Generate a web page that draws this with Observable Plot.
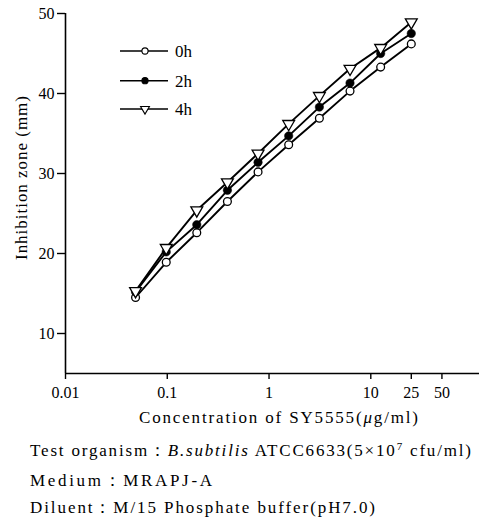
<!DOCTYPE html>
<html>
<head>
<meta charset="utf-8">
<script src="https://cdn.jsdelivr.net/npm/d3@7"></script>
<script src="https://cdn.jsdelivr.net/npm/@observablehq/plot@0.6"></script>
<style>
  body { margin: 0; background: #fff; }
  #wrap { position: relative; width: 482px; height: 521px; font-family: "Liberation Serif", serif; }
  #wrap svg { display: block; }
  #wrap svg text { font-family: "Liberation Serif", serif; }
  #overlay { position: absolute; left: 0; top: 0; pointer-events: none; }
</style>
</head>
<body>
<div id="wrap"></div>
<script>
// ---- data ----
const concentrations = [0.0488, 0.0977, 0.195, 0.39, 0.78, 1.56, 3.125, 6.25, 12.5, 25];
const zone0h = [14.5, 18.9, 22.6, 26.5, 30.2, 33.6, 36.9, 40.3, 43.3, 46.2];
const zone2h = [15.2, 20.2, 23.6, 27.9, 31.4, 34.7, 38.3, 41.3, 45.0, 47.5];
const zone4h = [15.3, 20.7, 25.4, 28.9, 32.5, 36.2, 39.7, 43.1, 45.7, 48.9];
const seriesNames = ["0h", "2h", "4h"];
const xTicks = [0.01, 0.1, 1, 10, 25, 50];
const xTickLabels = ["0.01", "0.1", "1", "10", "25", "50"];
const yTicks = [10, 20, 30, 40, 50];
const xDomain = [0.01, 117];
const yDomain = [5, 50];
const xLabel = "Concentration of SY5555";
const yLabel = "Inhibition zone (mm)";

const seriesValues = [zone0h, zone2h, zone4h];
const rows = seriesNames.flatMap((s, i) =>
  concentrations.map((c, j) => ({ series: s, conc: c, zone: seriesValues[i][j] }))
);
const bySeries = s => rows.filter(d => d.series === s);
const xTickRows = xTicks.map((v, i) => ({ v, label: xTickLabels[i] }));

const FONT = '"Liberation Serif", serif';

const chart = Plot.plot({
  width: 482,
  height: 430,
  marginTop: 13,
  marginLeft: 65,
  marginRight: 3,
  marginBottom: 57,
  style: { fontFamily: FONT, fontSize: "16px", background: "#fff", color: "#000" },
  x: { type: "log", domain: xDomain },
  y: { domain: yDomain },
  marks: [
    Plot.ruleY([yDomain[0]], { stroke: "#000", strokeWidth: 1.6 }),
    Plot.ruleX([xDomain[0]], { y1: yDomain[0], y2: yDomain[1], stroke: "#000", strokeWidth: 1.6 }),
    Plot.axisX({ ticks: xTicks, tickFormat: () => "", tickSize: 6, label: null, stroke: "#000", strokeWidth: 1.4 }),
    Plot.text(xTickRows, { x: "v", text: "label", frameAnchor: "bottom", lineAnchor: "top", dy: 13, fontSize: 16, fill: "#000" }),
    Plot.axisY({ ticks: yTicks, tickSize: 8, tickPadding: 3, label: null, stroke: "#000", strokeWidth: 1.4, fontSize: 16 }),
    ...seriesNames.map(s => Plot.line(bySeries(s), { x: "conc", y: "zone", stroke: "#000", strokeWidth: 1.9 })),
    Plot.dot(bySeries("0h"), { x: "conc", y: "zone", symbol: "circle", r: 3.9, fill: "#fff", stroke: "#000", strokeWidth: 1.3 }),
    Plot.dot(bySeries("2h"), { x: "conc", y: "zone", symbol: "circle", r: 4.2, fill: "#000", stroke: "#000", strokeWidth: 0.5 }),
    Plot.dot(bySeries("4h"), { x: "conc", y: "zone", symbol: "triangle", rotate: 180, r: 4.4, fill: "#fff", stroke: "#000", strokeWidth: 1.3 })
  ]
});
chart.querySelectorAll("text").forEach(t => t.setAttribute("font-family", FONT));

const wrap = document.getElementById("wrap");
wrap.appendChild(chart);

// ---- caption below the chart ----
const cap = d3.create("svg").attr("width", 482).attr("height", 91)
  .attr("font-family", FONT).attr("font-size", 17);
const capTop = 430;
function capLine(y, length, build) {
  const t = cap.append("text").attr("x", 30).attr("y", y - capTop)
    .attr("font-family", FONT)
    .attr("textLength", length).attr("lengthAdjust", "spacing");
  build(t);
}
capLine(456, 441, t => {
  t.append("tspan").text("Test organism：");
  t.append("tspan").attr("font-style", "italic").text("B.subtilis");
  t.append("tspan").text(" ATCC6633(5×10");
  t.append("tspan").attr("font-size", "11px").attr("dy", -6).text("7");
  t.append("tspan").attr("dy", 6).text(" cfu/ml)");
});
capLine(486, 182, t => t.text("Medium：MRAPJ-A"));
capLine(513, 345, t => t.text("Diluent：M/15 Phosphate buffer(pH7.0)"));
wrap.appendChild(cap.node());

// ---- overlay: axis titles and legend ----
const ov = d3.create("svg").attr("id", "overlay").attr("width", 482).attr("height", 430)
  .attr("font-family", FONT).attr("font-size", 17);
const xl = ov.append("text").attr("x", 139).attr("y", 423).attr("font-family", FONT)
  .attr("textLength", 279).attr("lengthAdjust", "spacing");
xl.append("tspan").text(xLabel + "(");
xl.append("tspan").attr("font-style", "italic").text("μ");
xl.append("tspan").text("g/ml)");
ov.append("text").attr("transform", "translate(27,178) rotate(-90)").attr("font-family", FONT)
  .attr("text-anchor", "middle").attr("textLength", 164).attr("lengthAdjust", "spacing")
  .text(yLabel);

const legendY = [51, 80.7, 109];
const symbols = [d3.symbolCircle, d3.symbolCircle, d3.symbolTriangle];
seriesNames.forEach((s, i) => {
  const g = ov.append("g").attr("transform", `translate(0,${legendY[i]})`);
  g.append("line").attr("x1", 120).attr("x2", 168).attr("stroke", "#000").attr("stroke-width", 1.5);
  const size = i === 2 ? 34 : 30;
  g.append("path").attr("d", d3.symbol(symbols[i], size)())
    .attr("transform", `translate(145,0)${i === 2 ? " rotate(180)" : ""}`)
    .attr("fill", i === 1 ? "#000" : "#fff").attr("stroke", "#000").attr("stroke-width", 1.1);
  g.append("text").attr("x", 175).attr("dy", "0.35em").attr("font-family", FONT).text(s);
});
wrap.appendChild(ov.node());
</script>
</body>
</html>
